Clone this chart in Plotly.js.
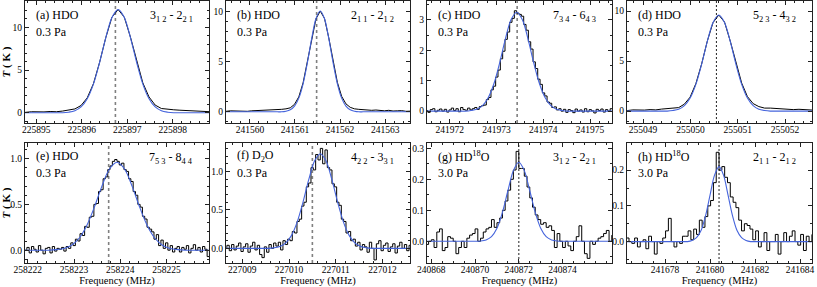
<!DOCTYPE html>
<html><head><meta charset="utf-8">
<script src="https://cdn.plot.ly/plotly-3.0.1.min.js"></script>
<style>html,body{margin:0;padding:0;background:#fff}#chart{width:817px;height:287px}</style>
</head><body><div id="chart"></div>
<script>
// ---------- text ----------
const panelSpecies = ['(a) HDO','(b) HDO','(c) HDO','(d) HDO','(e) HDO','(f) D<sub>2</sub>O','(g) HD<sup>18</sup>O','(h) HD<sup>18</sup>O'];
const panelPressure = ['0.3 Pa','0.3 Pa','0.3 Pa','0.3 Pa','0.3 Pa','0.3 Pa','3.0 Pa','3.0 Pa'];
const transitions = ['3<sub>1 2</sub> - 2<sub>2 1</sub>','2<sub>1 1</sub> - 2<sub>1 2</sub>','7<sub>3 4</sub> - 6<sub>4 3</sub>','5<sub>2 3</sub> - 4<sub>3 2</sub>',
                     '7<sub>5 3</sub> - 8<sub>4 4</sub>','4<sub>2 2</sub> - 3<sub>3 1</sub>','3<sub>1 2</sub> - 2<sub>2 1</sub>','2<sub>1 1</sub> - 2<sub>1 2</sub>'];
const xTitle = 'Frequency (MHz)';
const yTitle = '<b><i>T</i> ( K )</b>';

// ---------- rest frequencies (dotted lines), MHz ----------
const restFreq = [225896.74, 241561.48, 241973.44, 255050.55, 258223.75, 227010.50, 240872.00, 241680.40];

// ---------- observed spectra: start frequency (MHz), channel step (MHz), intensity (K) ----------
const obsStart = [225894.624, 241559.375, 241971.48, 255048.543, 258221.93, 227008.62, 240867.75, 241676.275];
const obsStep  = [0.136, 0.095, 0.05, 0.121, 0.05, 0.05, 0.125, 0.125];
const obsA = [0.1,0.05,0.12,0.08,0.1,0.15,0.12,0.2,0.3,0.45,0.85,1.75,3.4,5.9,8.8,11.2,12.1,11.2,8.85,6.0,3.5,1.85,0.9,0.5,0.4,0.35,0.3,0.28,0.2,0.22,0.15,0.12];
const obsB = [0.1,0.05,0.1,0.08,0.12,0.1,0.05,0.1,0.12,0.1,0.15,0.12,0.2,0.18,0.25,
              0.3,0.4,0.75,1.5,2.9,4.95,7.35,9.3,10.1,9.35,7.4,5.0,2.95,1.55,0.8,0.45,0.3,
              0.25,0.2,0.22,0.15,0.18,0.12,0.1,0.15,0.08,0.1,0.12,0.05,0.1,0.08];
const obsC = [0.02,-0.04,0.05,0.08,-0.02,0.03,0.07,0.0,0.06,-0.03,0.04,0.1,0.02,0.08,-0.02,0.12,0.05,0.03,0.1,0.04,0.08,
              0.12,0.06,0.15,0.18,0.2,0.38,0.45,0.7,0.82,1.12,1.35,1.72,1.97,2.36,2.6,2.92,3.05,3.3,
              3.22,
              3.18,3.12,2.85,2.66,2.28,2.04,1.62,1.4,1.05,0.88,0.6,0.5,0.3,0.26,0.12,0.14,0.04,0.08,
              0.0,0.06,-0.04,0.05,0.02,-0.05,0.07,0.0,0.04,-0.03,0.08,-0.02,0.05,0.01,-0.06,0.06,0.02,0.07,-0.03,0.05,0.0,0.08,-0.02];
const obsD = [0.1,0.05,0.12,0.08,0.1,0.15,0.12,0.2,0.25,0.3,0.35,0.7,1.4,2.75,4.7,7.0,8.85,9.6,8.9,7.0,4.75,2.8,1.45,0.75,0.45,0.3,0.3,0.25,0.2,0.22,0.15,0.18,0.12,0.1,0.08];
const obsE = [0.0,0.03,-0.03,0.04,0.01,-0.02,0.05,0.0,-0.04,0.02,0.03,-0.03,0.04,-0.01,0.02,0.01,
              0.03,-0.01,0.04,0.02,0.08,0.05,0.12,0.1,0.18,0.16,0.26,0.25,0.36,0.37,0.5,0.51,0.64,0.66,0.78,0.8,0.88,0.92,0.97,0.99,
              0.97,
              0.93,0.95,0.88,0.86,0.78,0.75,0.64,0.6,0.5,0.47,0.37,0.34,0.25,0.23,0.2,0.12,0.17,0.05,0.11,0.02,0.08,0.0,0.05,-0.02,
              0.02,0.04,-0.02,0.03,0.01,0.05,-0.03,0.02,0.06,0.0,0.03,-0.02,0.04,0.01,-0.07,0.02];
const obsF = [0.0,0.04,-0.03,0.05,-0.02,0.03,0.07,-0.04,0.02,0.06,-0.05,0.03,0.08,-0.02,0.04,-0.08,-0.12,0.02,-0.05,0.05,0.0,0.07,0.03,
              0.08,-0.02,0.1,0.05,0.12,0.1,0.22,0.2,0.35,0.38,0.55,0.6,0.8,0.85,1.05,1.02,1.22,1.15,
              1.3,
              1.1,1.28,1.05,1.02,0.84,0.8,0.6,0.56,0.38,0.35,0.2,0.22,0.1,0.12,0.03,0.08,-0.02,0.05,
              0.02,-0.05,0.08,0.0,-0.15,0.06,0.1,-0.03,0.04,0.07,-0.04,0.02,0.06,-0.06,0.03,0.08,0.0,0.05,-0.03,0.04,0.02];
const obsG = [-0.01,0.0,0.005,-0.02,0.03,0.04,-0.03,-0.02,0.015,0.01,0.0,-0.04,-0.02,0.0,-0.02,0.01,0.02,0.025,0.04,0.0,
              0.01,0.03,0.04,0.045,0.07,0.045,0.06,0.075,0.1,0.13,0.165,0.2,0.23,0.29,0.235,0.235,0.21,0.175,0.14,0.11,
              0.085,0.07,0.055,0.06,0.045,0.05,0.035,-0.02,0.025,0.0,-0.02,0.0,-0.015,-0.03,0.0,0.015,0.05,0.0,-0.04,-0.055,
              0.0,-0.01,0.0,0.01,0.015,0.025,0.035,0.0,0.02];
const obsH = [0.01,0.0,-0.005,0.01,-0.015,0.0,0.005,-0.02,0.015,0.0,-0.035,0.0,-0.005,0.01,0.03,0.065,0.0,-0.015,0.0,-0.005,
              0.015,0.015,0.03,0.005,0.035,0.02,0.06,0.04,0.07,0.1,0.115,0.165,0.25,0.2,0.21,0.18,0.165,0.125,0.11,0.095,
              0.06,0.03,0.05,0.045,0.035,0.005,0.03,-0.015,0.0,0.025,-0.025,0.0,0.0,0.02,-0.035,0.0,0.025,0.0,0.015,0.03,
              0.0,-0.01,0.02,-0.025,0.015,0.0,0.02];

// ---------- fitted profiles: start frequency (MHz), step (MHz), intensity (K) ----------
const fitStart = [225894.624, 241559.375, 241971.478, 255048.543, 258221.798, 227008.562, 240867.75, 241676.2];
const fitStep  = [0.136, 0.095, 0.122, 0.121, 0.164, 0.124, 0.25, 0.2];
const fitA = [0,0,0,0,0,0,0,0,0.07,0.24,0.68,1.64,3.36,5.89,8.79,11.17,12.1,11.17,8.79,5.89,3.36,1.64,0.68,0.24,0.07,0,0,0,0,0,0,0];
const fitB = [0,0,0,0,0,0,0,0,0,0,0,0,0,0,0,0.06,0.20,0.57,1.37,2.81,4.92,7.33,9.32,10.1,9.32,7.33,4.92,2.81,1.37,0.57,0.20,0.06,0,0,0,0,0,0,0,0,0,0,0,0,0,0];
const fitC = [0,0,0,0,0,0,0,0,0.02,0.06,0.18,0.44,0.90,1.58,2.36,3.00,3.25,3.00,2.36,1.58,0.90,0.44,0.18,0.06,0.02,0,0,0,0,0,0,0,0,0];
const fitD = [0,0,0,0,0,0,0,0,0,0.06,0.19,0.54,1.30,2.67,4.67,6.97,8.86,9.6,8.86,6.97,4.67,2.67,1.30,0.54,0.19,0.06,0,0,0,0,0,0,0,0,0];
const fitE = [0,0,0,0,0,0.006,0.019,0.054,0.130,0.267,0.467,0.697,0.886,0.96,0.886,0.697,0.467,0.267,0.130,0.054,0.019,0.006,0,0,0,0,0];
const fitF = [0,0,0,0,0,0,0,0,0,0.007,0.024,0.069,0.166,0.342,0.599,0.893,1.135,1.23,1.135,0.893,0.599,0.342,0.166,0.069,0.024,0.007,0,0,0,0,0,0,0,0];
const fitG = [0,0,0,0,0,0,0,0,0,0,0.001,0.0045,0.015,0.042,0.093,0.163,0.228,0.255,0.228,0.163,0.093,0.042,0.015,0.0045,0.001,0,0,0,0,0,0,0,0,0,0];
const fitH = [0,0,0,0,0,0,0,0,0,0,0,0,0,0,0,0.003,0.011,0.031,0.072,0.130,0.186,0.21,0.186,0.130,0.072,0.031,0.011,0.003,0,0,0,0,0,0,0,0,0,0,0,0,0,0,0];

// ---------- axis ranges / ticks ----------
const xRanges = [[225894.75,225898.8],[241559.47,241563.55],[241971.51,241975.47],[255048.66,255052.57],
                 [258221.94,258225.92],[227008.65,227012.59],[240867.8,240876.26],[241676.31,241684.53]];
const yRanges = [[-1.2,13.1],[-1.12,11.1],[-0.39,3.62],[-1.19,11.0],[-0.14,1.17],[-0.19,1.37],[-0.07,0.317],[-0.06,0.276]];
const xTickVals = [[225895,225896,225897,225898],[241560,241561,241562,241563],[241972,241973,241974,241975],[255049,255050,255051,255052],
                   [258222,258223,258224,258225],[227009,227010,227011,227012],[240868,240870,240872,240874],[241678,241680,241682,241684]];
const yDtick = [5,5,1,5,0.5,0.5,0.1,0.1];

// ---------- build ----------
const obsValues = [obsA,obsB,obsC,obsD,obsE,obsF,obsG,obsH];
const fitValues = [fitA,fitB,fitC,fitD,fitE,fitF,fitG,fitH];
const obsShape = ['linear','linear','hv','linear','hv','hv','hv','hv'];
const xMinor = [0.2,0.2,0.2,0.2,0.2,0.2,0.5,0.5];
const yMinor = [1,1,0.5,1,0.1,0.1,0.05,0.05];
const yFmt = ['d','d','d','d','.1f','.1f','.1f','.1f'];
const xDom = [[0.0306,0.2558],[0.2766,0.5018],[0.5226,0.7491],[0.7674,0.9939]];
const yDom = [[0.5714,0.9965],[0.0836,0.5017]];
const FONT = 'Liberation Serif';
const AX = '#222';

const traces = [];
const layout = {
  width: 817, height: 287, margin: {l:0, r:0, t:0, b:0},
  paper_bgcolor: '#fff', plot_bgcolor: '#fff',
  font: {family: FONT, color: '#000', size: 10},
  showlegend: false, annotations: [], shapes: []
};

for (let i = 0; i < 8; i++) {
  const n = i + 1, sx = n === 1 ? '' : String(n);
  const xa = 'x' + sx, ya = 'y' + sx;
  traces.push({type:'scatter', mode:'lines', x0: obsStart[i], dx: obsStep[i], y: obsValues[i],
    xaxis: xa, yaxis: ya, line: {color:'#000', width:1, shape: obsShape[i]}, hoverinfo:'skip'});
  traces.push({type:'scatter', mode:'lines', x0: fitStart[i], dx: fitStep[i], y: fitValues[i],
    xaxis: xa, yaxis: ya, line: {color:'#4564dc', width:1.1, shape:'spline', smoothing:0.9}, hoverinfo:'skip'});
  const row = i < 4 ? 0 : 1, col = i % 4;
  const xax = {
    domain: xDom[col], range: xRanges[i], anchor: ya,
    tickmode: 'array', tickvals: xTickVals[i], tickformat: 'd',
    ticks: 'inside', ticklen: 4, tickwidth: 1, tickcolor: AX, ticklabelstandoff: -2,
    showline: true, linecolor: AX, linewidth: 1, mirror: 'allticks',
    showgrid: false, zeroline: false,
    tickfont: {family: FONT, size: 9.5, color: '#000'},
    minor: {tickmode: 'linear', tick0: xTickVals[i][0], dtick: xMinor[i], ticks: 'inside', ticklen: 2, tickcolor: AX, showgrid: false}
  };
  if (row === 1) xax.title = {text: xTitle, font: {family: FONT, size: 10.5, color: '#000'}, standoff: 5};
  layout['xaxis' + sx] = xax;
  const yax = {
    domain: yDom[row], range: yRanges[i], anchor: xa,
    dtick: yDtick[i], tick0: 0, tickformat: yFmt[i],
    ticks: 'inside', ticklen: 4, tickwidth: 1, tickcolor: AX,
    showline: true, linecolor: AX, linewidth: 1, mirror: 'allticks',
    showgrid: false, zeroline: false,
    tickfont: {family: FONT, size: 9.5, color: '#000'},
    minor: {dtick: yMinor[i], ticks: 'inside', ticklen: 2, tickcolor: AX, showgrid: false}
  };
  if (col === 0) yax.title = {text: yTitle, font: {family: FONT, size: 11, color: '#000'}, standoff: 3};
  layout['yaxis' + sx] = yax;
  const heavy = [0,1,2,4,5].includes(i);
  layout.shapes.push({type:'line', xref: xa, yref: ya + ' domain', x0: restFreq[i], x1: restFreq[i], y0: 0, y1: 1,
    layer: 'below', line: {color: heavy ? '#808080' : '#222', width: heavy ? 1.6 : 1, dash: heavy ? 'dot' : '2px,2px'}});
  const fnt = {family: FONT, size: 12, color: '#000'};
  layout.annotations.push({xref: xa + ' domain', yref: ya + ' domain', x: 0.05, y: row === 0 ? 0.885 : 0.89,
    xanchor: 'left', yanchor: 'middle', showarrow: false, text: panelSpecies[i], font: fnt});
  layout.annotations.push({xref: xa + ' domain', yref: ya + ' domain', x: 0.05, y: 0.75,
    xanchor: 'left', yanchor: 'middle', showarrow: false, text: panelPressure[i], font: fnt});
  layout.annotations.push({xref: xa + ' domain', yref: ya + ' domain', x: 0.925, y: 0.875,
    xanchor: 'right', yanchor: 'middle', showarrow: false, text: transitions[i], font: fnt});
}

Plotly.newPlot('chart', traces, layout, {staticPlot: true, displayModeBar: false});
</script></body></html>
